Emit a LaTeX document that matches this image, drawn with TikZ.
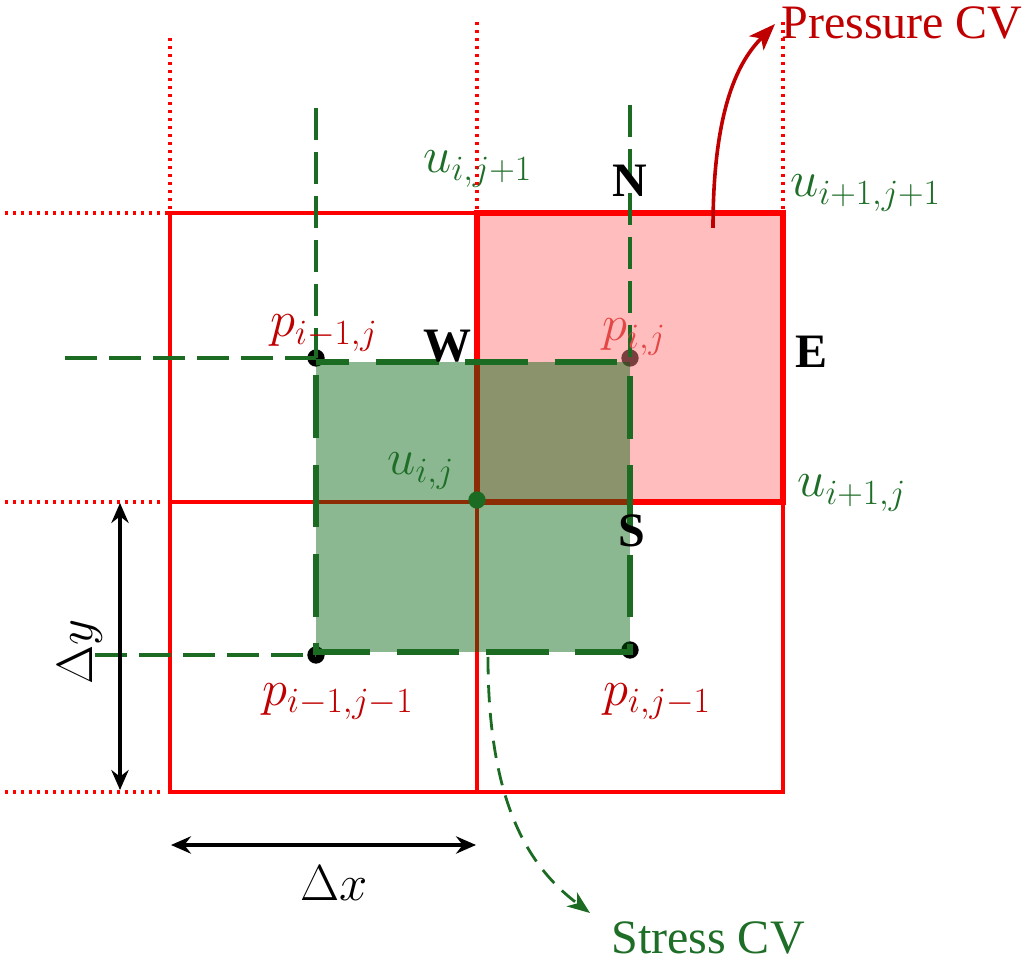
\documentclass[tikz,border=0pt]{standalone}
\usepackage{fix-cm}
\usepackage{fontspec}
\setmainfont{Liberation Serif}
\usetikzlibrary{arrows.meta}
\definecolor{gridred}{RGB}{255,0,0}
\definecolor{labred}{RGB}{192,0,0}
\definecolor{lightlab}{RGB}{228,70,70}
\definecolor{labgreen}{RGB}{30,110,40}
\definecolor{cvgreen}{RGB}{27,107,35}
\definecolor{pinkfill}{RGB}{255,189,189}
\definecolor{fillgreen}{RGB}{0,97,13}
\definecolor{dotbrown}{RGB}{122,62,62}
\tikzset{
  gridline/.style={draw=gridred, line width=2.6pt},
  pbox/.style={draw=gridred, line width=4pt},
  extdot/.style={draw=gridred, line width=2.4pt, dash pattern=on 2.4pt off 3.6pt},
  thindash/.style={draw=cvgreen, line width=2.3pt, dash pattern=on 24pt off 9pt},
  cvborder/.style={draw=cvgreen, line width=4.6pt, dash pattern=on 47pt off 20pt, dash phase=22pt},
  ptdot/.style={circle, fill=#1, inner sep=0pt, minimum size=13pt},
  lbl/.style={font=\fontsize{38}{40}\selectfont, inner sep=0pt},
  dirlbl/.style={font=\fontsize{36}{40}\selectfont\bfseries, inner sep=0pt},
  cvtext/.style={font=\fontsize{36}{40}\selectfont, inner sep=0pt},
  dimarrow/.style={draw=black, line width=2.3pt, {Stealth[length=15pt,width=13pt,inset=5pt]}-{Stealth[length=15pt,width=13pt,inset=5pt]}}
}
\begin{document}
\begin{tikzpicture}[x=0.75pt,y=-0.75pt]
\useasboundingbox (0,0) rectangle (1026,966);
% grid coordinates
\coordinate (LT) at (170,213); \coordinate (MT) at (477,213); \coordinate (RT) at (783,213);
\coordinate (LC) at (170,502); \coordinate (MC) at (477,502); \coordinate (RC) at (783,502);
\coordinate (LB) at (170,792); \coordinate (MB) at (477,792); \coordinate (RB) at (783,792);
% dotted extensions
\coordinate (eL) at (170,38); \coordinate (eM) at (477,22); \coordinate (eR) at (783,22);
\coordinate (hT) at (5,213); \coordinate (hC0) at (5,502); \coordinate (hC1) at (164,502);
\coordinate (hB0) at (5,792); \coordinate (hB1) at (164,792);
\draw[extdot] (eL) -- (LT);
\draw[extdot] (eM) -- (MT);
\draw[extdot] (eR) -- (RT);
\draw[extdot] (hT) -- (LT);
\draw[extdot] (hC0) -- (hC1);
\draw[extdot] (hB0) -- (hB1);
% pressure CV fill
\fill[pinkfill] (MT) rectangle (RC);
% grid
\draw[gridline] (LT) rectangle (RB);
\draw[gridline] (MT) -- (MB);
\draw[gridline] (LC) -- (RC);
\draw[pbox] (MT) rectangle (RC);
% thin green dashed lines
\coordinate (v1) at (316,108); \coordinate (v2) at (630,105);
\coordinate (h1) at (65,358); \coordinate (h2) at (95,655);
\node[ptdot=black] (d1) at (316,358) {};
\node[ptdot=black] (d2) at (316,655) {};
\node[ptdot=black] (d3) at (630,650) {};
\node[ptdot=dotbrown] (d4) at (630,358) {};
\draw[thindash] (v1) -- (d1.center);
\draw[thindash] (v2) -- (d4.center);
\draw[thindash] (h1) -- (d1.center);
\draw[thindash] (h2) -- (d2.center);
% stress CV
\coordinate (stl) at (316,362); \coordinate (str) at (630,362);
\coordinate (sbr) at (630,652); \coordinate (sbl) at (316,652);
\fill[fillgreen, fill opacity=0.455] (stl) rectangle (sbr);
\draw[cvborder] (stl) -- (str) -- (sbr) -- (sbl) -- cycle;
\node[ptdot=cvgreen] (d5) at (477,500) {};
% labels
\node[lbl, text=labgreen, anchor=base west] (uij1) at (423,173) {$u_{i,j+1}$};
\node[lbl, text=labgreen, anchor=base west] (ui1j1) at (790,197) {$u_{i+1,j+1}$};
\node[lbl, text=labred, anchor=base west] (pim1j) at (270,337) {$p_{i-1,j}$};
\node[lbl, text=lightlab, anchor=base west] (pij) at (602,341) {$p_{i,j}$};
\node[lbl, text=labgreen, anchor=base west] (uij) at (387,475) {$u_{i,j}$};
\node[lbl, text=labgreen, anchor=base west] (ui1j) at (797,497) {$u_{i+1,j}$};
\node[lbl, text=labred, anchor=base west] (pim1jm1) at (262,705) {$p_{i-1,j-1}$};
\node[lbl, text=labred, anchor=base west] (pijm1) at (603,705) {$p_{i,j-1}$};
\node[dirlbl] (N) at (630,181) {N};
\node[dirlbl] (W) at (447,346) {W};
\node[dirlbl] (E) at (812,352) {E};
\node[dirlbl] (S) at (632,531) {S};
% dimension arrows
\coordinate (dyT) at (120,503); \coordinate (dyB) at (120,790);
\draw[dimarrow] (dyT) -- (dyB);
\node[lbl, rotate=90] (dy) at (80,652) {$\Delta y$};
\coordinate (dxL) at (171,845); \coordinate (dxR) at (476,845);
\draw[dimarrow] (dxL) -- (dxR);
\node[lbl] (dx) at (334,883) {$\Delta x$};
% CV callouts
\node[cvtext, text=labgreen] (scv) at (708,938) {Stress CV};
\node[cvtext, text=labred] (pcv) at (902,23) {Pressure CV};
\coordinate (pstart) at (713,228); \coordinate (ptip) at (775,24);
\draw[labred, line width=2.7pt, -{Stealth[length=20pt,width=15pt,inset=5pt]}]
  (pstart) .. controls (713,95) and (745,55) .. (ptip);
\coordinate (sstart) at (488,657); \coordinate (stip) at (590,913);
\draw[cvgreen, line width=2.1pt, dash pattern=on 13pt off 8pt, -{Stealth[length=17pt,width=13pt,inset=5pt]}]
  (sstart) .. controls (488,805) and (530,868) .. (stip);
\end{tikzpicture}
\end{document}
